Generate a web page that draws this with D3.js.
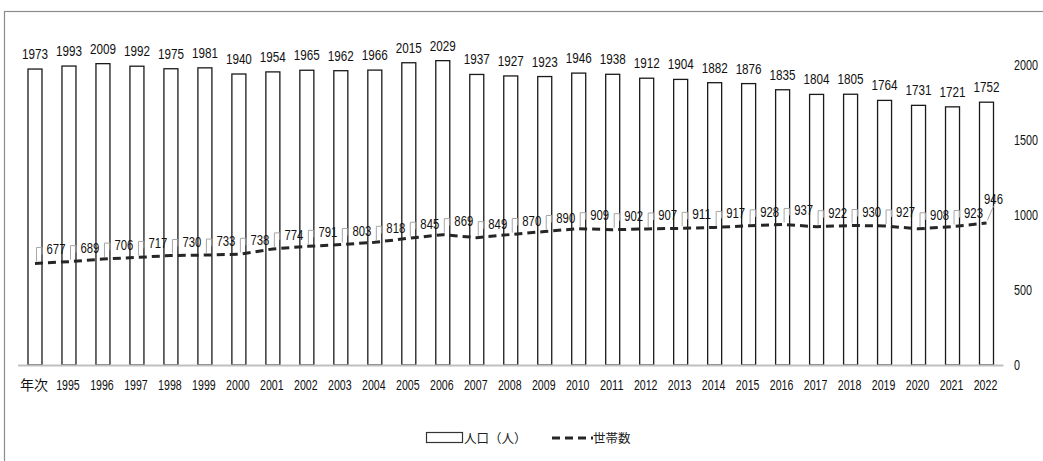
<!DOCTYPE html>
<html><head><meta charset="utf-8">
<script src="https://cdn.jsdelivr.net/npm/d3@7"></script>
<style>
body{margin:0;background:#fff;}
svg{display:block;}
.cjk{font-family:"Noto Sans CJK JP",sans-serif;fill:#222;}
</style>
</head><body>
<svg id="chart" width="1043" height="461"></svg>
<script>
const categories = ["年次","1995","1996","1997","1998","1999","2000","2001","2002","2003","2004","2005","2006","2007","2008","2009","2010","2011","2012","2013","2014","2015","2016","2017","2018","2019","2020","2021","2022"];
const population = [1973,1993,2009,1992,1975,1981,1940,1954,1965,1962,1966,2015,2029,1937,1927,1923,1946,1938,1912,1904,1882,1876,1835,1804,1805,1764,1731,1721,1752];
const households = [677,689,706,717,730,733,738,774,791,803,818,845,869,849,870,890,909,902,907,911,917,928,937,922,930,927,908,923,946];
const yTicks = [0,500,1000,1500,2000];
const seriesNames = ["人口（人）","世帯数"];

const svg = d3.select("#chart");
const NUMFONT = '"Liberation Sans",sans-serif';

// squeeze digits to mimic a condensed face
function squeeze(sel, perChar){
  sel.each(function(){
    const t = d3.select(this).text();
    if(/^[0-9]+$/.test(t)){
      d3.select(this).attr("textLength", t.length*perChar).attr("lengthAdjust","spacingAndGlyphs");
    }
  });
}

// outer frame
svg.append("rect").attr("x",4.5).attr("y",11.5).attr("width",1100).attr("height",500)
  .attr("fill","none").attr("stroke","#8c8c8c").attr("stroke-width",1.2);

const x = d3.scaleBand().domain(categories).range([18,1003.5]).paddingInner(0.588).paddingOuter(0.294);
const y = d3.scaleLinear().domain([0,2000]).range([365,65]);

// bars
svg.append("g").selectAll("rect").data(population).join("rect")
  .attr("x",(d,i)=>x(categories[i]))
  .attr("y",d=>y(d))
  .attr("width",x.bandwidth())
  .attr("height",d=>y(0)-y(d))
  .attr("fill","#fff").attr("stroke","#1a1a1a").attr("stroke-width",1.3);

// baseline
svg.append("line").attr("x1",18).attr("x2",1003.5).attr("y1",y(0)+0.5).attr("y2",y(0)+0.5)
  .attr("stroke","#c0c0c0").attr("stroke-width",2);

// bar labels
svg.append("g").selectAll("text").data(population).join("text")
  .attr("x",(d,i)=>x(categories[i])+x.bandwidth()/2)
  .attr("y",d=>y(d)-10)
  .attr("text-anchor","middle").attr("font-size",15)
  .style("font-family",NUMFONT).attr("fill","#111")
  .text(d=>d).call(squeeze,6.5);

// right axis (left-aligned look, anchored at end to keep within the page)
const yAxis = d3.axisRight(y).tickValues(yTicks).tickSize(0).tickPadding(0).tickFormat(d3.format("d"));
const ga = svg.append("g").attr("transform","translate(1014,0)").call(yAxis);
ga.select(".domain").remove();
ga.selectAll("text").attr("font-size",15).attr("fill","#111")
  .style("font-family",NUMFONT)
  .attr("text-anchor","end")
  .attr("x",function(){ return d3.select(this).text().length*6.0; })
  .call(squeeze,6.0);

// x axis labels
const xAxis = d3.axisBottom(x).tickSize(0).tickPadding(0);
const gx = svg.append("g").attr("transform","translate(-1,380)").call(xAxis);
gx.select(".domain").remove();
gx.selectAll("text").attr("fill","#111")
  .style("font-family",d=>d==="年次" ? '"Noto Sans CJK JP",sans-serif' : NUMFONT)
  .attr("font-size",14)
  .call(squeeze,5.9);

// households line
const cx = i => x(categories[i]) + x.bandwidth()/2;
const line = d3.line().x((d,i)=>cx(i)).y(d=>y(d));
svg.append("path").datum(households).attr("d",line)
  .attr("fill","none").attr("stroke","#262626").attr("stroke-width",3)
  .attr("stroke-dasharray","8,5");

// leader lines + labels
const last = households.length-1;
svg.append("g").selectAll("path").data(households).join("path")
  .attr("d",(d,i)=>{
    const px=cx(i), py=y(d);
    if(i===last) return `M${px+1},${py-3}L${px+7},${py-17}`;
    return `M${px+1.5},${py-2}V${py-16}H${px+7}V${py-9}`;
  })
  .attr("fill","none").attr("stroke","#a6a6a6").attr("stroke-width",1);
svg.append("g").selectAll("text").data(households).join("text")
  .attr("x",(d,i)=> i===last ? cx(i)+7 : cx(i)+21)
  .attr("y",(d,i)=> i===last ? y(d)-19 : y(d)-9)
  .attr("text-anchor","middle").attr("font-size",15)
  .style("font-family",NUMFONT).attr("fill","#111")
  .text(d=>d).call(squeeze,6.3);

// legend
const lg = svg.append("g");
lg.append("rect").attr("x",426.5).attr("y",432.5).attr("width",36).attr("height",10)
  .attr("fill","#fff").attr("stroke","#333").attr("stroke-width",1.2);
lg.append("text").attr("class","cjk").attr("x",464).attr("y",442.5).attr("font-size",12.5).text(seriesNames[0]);
lg.append("line").attr("x1",552).attr("x2",593).attr("y1",438).attr("y2",438)
  .attr("stroke","#262626").attr("stroke-width",3).attr("stroke-dasharray","8,5");
lg.append("text").attr("class","cjk").attr("x",593).attr("y",442.5).attr("font-size",12.5).text(seriesNames[1]);
</script>
</body></html>
